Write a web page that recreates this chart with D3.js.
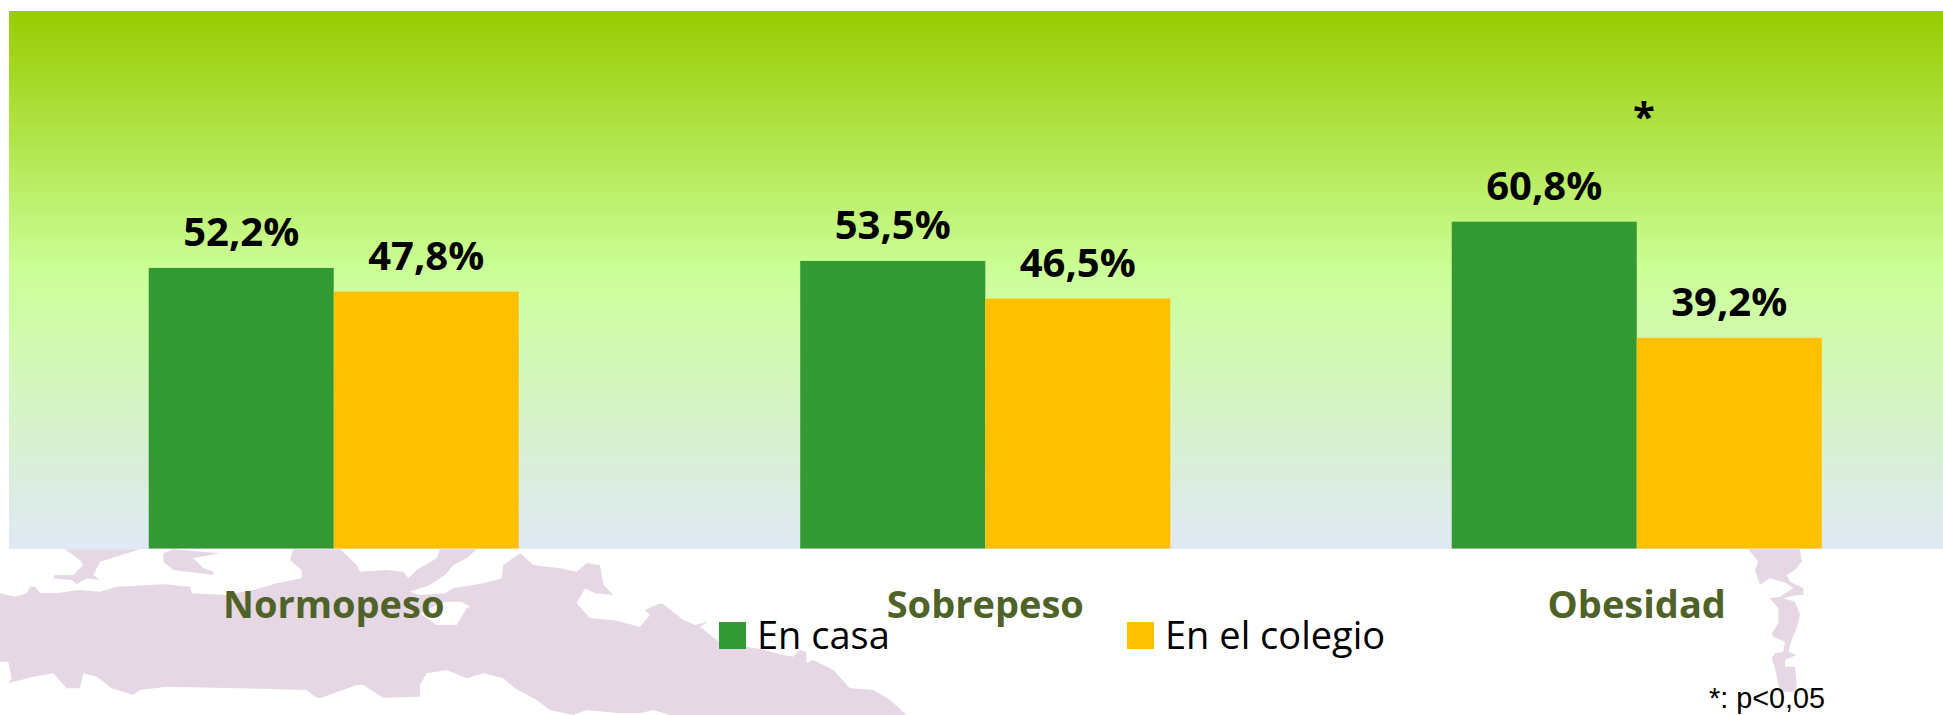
<!DOCTYPE html>
<html><head><meta charset="utf-8">
<style>html,body{margin:0;padding:0;background:#fff;overflow:hidden}svg{display:block}</style>
<script src="https://cdn.jsdelivr.net/npm/d3@7"></script></head>
<body><svg id="c" width="1943" height="715"></svg>
<script>
const categories = ["Normopeso","Sobrepeso","Obesidad"];
const seriesNames = ["En casa","En el colegio"];
const enCasa = [52.2,53.5,60.8];
const enColegio = [47.8,46.5,39.2];
const valueLabels = [["52,2%","53,5%","60,8%"],["47,8%","46,5%","39,2%"]];
const colors = ["#339933","#ffc000"];

// decorative backdrop outlines, traced per crop
const mapMain = [[0,545,[[0,145],[45,155],[80,145],[90,125],[105,125],[120,145],[170,145],[235,135],[300,140],[350,125],[490,118],[570,125],[575,145],[680,150],[760,135],[830,115],[905,100],[905,75],[870,45],[880,13],[1020,13]]],
 [320,545,[[60,13],[110,60],[120,80],[200,75],[250,80],[265,100],[290,75],[350,40],[360,13],[470,13],[440,40],[400,60],[375,90],[330,120],[270,140],[300,150],[375,145],[400,130],[490,115],[545,100],[550,60],[600,25],[640,60],[720,70],[770,80],[800,55],[840,60],[850,120],[880,150],[825,145],[795,130],[770,175],[810,220],[880,225],[960,245],[990,210],[975,195],[1020,175]]],
 [640,545,[[60,175],[70,178],[130,225],[165,240],[205,230],[180,245],[237,290],[315,305],[360,312],[430,330],[460,335],[480,315],[498,320],[500,355],[520,345],[580,375],[630,430],[700,435],[750,465],[800,510],[90,510],[40,495],[0,505]]],
 [320,545,[[900,505],[800,495],[760,510],[690,495],[650,465],[585,430],[550,400],[490,385],[440,400],[380,375],[320,385],[300,420],[300,455],[190,458],[130,420],[110,420],[0,460]]],
 [0,545,[[945,455],[920,435],[720,430],[500,425],[420,435],[400,450],[335,430],[290,395],[250,385],[240,430],[200,430],[160,385],[100,395],[25,415],[35,400],[25,350],[0,350]]]];
const mapIslands = [[0,545,[[195,13],[420,13],[365,30],[300,50],[280,90],[300,105],[260,100],[230,118],[215,105],[160,100],[165,90],[220,90],[250,60],[240,45]]],
 [0,545,[[490,25],[520,13],[660,25],[580,40],[610,70],[640,80],[640,90],[520,75],[490,50]]],
 [1680,545,[[205,13],[360,13],[365,50],[345,75],[320,90],[330,110],[370,130],[370,150],[350,150],[310,160],[345,170],[360,210],[350,250],[335,285],[325,320],[350,330],[315,345],[315,365],[345,365],[350,420],[345,440],[300,440],[285,370],[275,340],[285,325],[310,320],[315,290],[280,275],[275,265],[295,235],[295,190],[270,160],[300,155],[340,130],[320,115],[270,100],[240,120],[225,75],[235,50]]]];
const mapHole = [[320,545,[[300,205],[350,240],[410,240],[440,190],[450,185],[425,170],[375,170],[330,190]]]];

const svg = d3.select("#c");
const defs = svg.append("defs");
defs.append("filter").attr("id","soft").append("feGaussianBlur").attr("stdDeviation",0.7);
const grad = defs.append("linearGradient").attr("id","bg").attr("x1",0).attr("y1",0).attr("x2",0).attr("y2",1);
[[0,"#99cc00"],[0.49,"#ccff99"],[1,"#e0e8f5"]].forEach(([o,c]) => grad.append("stop").attr("offset",o).attr("stop-color",c));

const toPts = parts => parts.flatMap(([ox,oy,p]) => p.map(([x,y]) => [ox+x/3, oy+y/3]));
const line = d3.line();
const mapFill = "#e5d7e4";
const mapG = svg.append("g").attr("filter","url(#soft)");
mapG.append("path").attr("d", line(toPts(mapMain))+"Z"+line(toPts(mapHole))+"Z").attr("fill",mapFill).attr("fill-rule","evenodd");
mapIslands.forEach(i => mapG.append("path").attr("d", line(toPts([i]))+"Z").attr("fill",mapFill));

const y = d3.scaleLinear().domain([0,100]).range([548.5,11]);
const x = d3.scaleBand().domain(categories).range([8,1962.5]).paddingInner(0.432).paddingOuter(0.216);
const sub = d3.scaleBand().domain(seriesNames).range([0,x.bandwidth()]);

svg.append("rect").attr("x",9).attr("y",11).attr("width",1943-9).attr("height",538).attr("fill","url(#bg)");

const font = "'Open Sans',sans-serif";
[enCasa,enColegio].forEach((vals,s) => {
  const g = svg.append("g");
  g.selectAll("rect").data(vals).join("rect")
    .attr("x",(d,i)=>x(categories[i])+sub(seriesNames[s]))
    .attr("y",d=>y(d)).attr("width",sub.bandwidth()).attr("height",d=>y(0)-y(d)).attr("fill",colors[s]);
  g.selectAll("text").data(vals).join("text")
    .attr("x",(d,i)=>x(categories[i])+sub(seriesNames[s])+sub.bandwidth()/2)
    .attr("y",d=>y(d)-22).attr("text-anchor","middle")
    .attr("font-family",font).attr("font-weight",700).attr("font-size",40).attr("fill","#000")
    .text((d,i)=>valueLabels[s][i]);
});
svg.append("g").selectAll("text").data(categories).join("text")
  .attr("x",d=>x(d)+x.bandwidth()/2).attr("y",618).attr("text-anchor","middle")
  .attr("font-family",font).attr("font-weight",700).attr("font-size",38).attr("fill","#4f6228").text(d=>d);

const legendX = d3.scaleOrdinal().domain(seriesNames).range([719,1127]);
const leg = svg.append("g").selectAll("g").data(seriesNames).join("g").attr("transform",d=>`translate(${legendX(d)},622)`);
leg.append("rect").attr("width",27).attr("height",27).attr("fill",(d,i)=>colors[i]);
leg.append("text").attr("x",38).attr("y",27).attr("font-family",font).attr("font-size",38).attr("fill","#000").text(d=>d);

svg.append("text").attr("x",1644).attr("y",131).attr("text-anchor","middle").attr("font-family",font).attr("font-weight",700).attr("font-size",40).text("*");
svg.append("text").attr("x",1709).attr("y",708).attr("font-family","'Liberation Sans',sans-serif").attr("font-size",28.8).text("*: p<0,05");
</script></body></html>
